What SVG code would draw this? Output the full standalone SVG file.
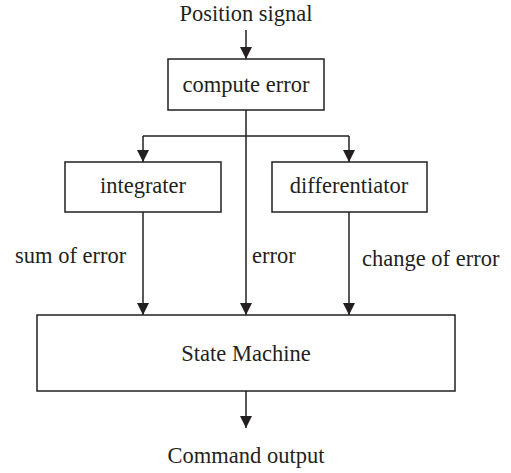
<svg xmlns="http://www.w3.org/2000/svg" width="511" height="473" viewBox="0 0 511 473">
  <style>
    .box { fill: #ffffff; stroke: #231f20; stroke-width: 1.5; }
    .wire { fill: none; stroke: #231f20; stroke-width: 1.5; }
    text { font-family: "Liberation Serif", "Times New Roman", serif; font-size: 22.5px; fill: #231f20; }
    .c { text-anchor: middle; }
  </style>
  <defs>
    <marker id="arrow" viewBox="0 0 12 12" refX="12" refY="6" markerWidth="12" markerHeight="12" markerUnits="userSpaceOnUse" orient="auto">
      <path d="M0,0 L12,6 L0,12 Z" fill="#231f20"/>
    </marker>
  </defs>

  <rect width="511" height="473" fill="#ffffff"/>

  <!-- connectors -->
  <g id="connectors">
    <line class="wire" x1="246" y1="30" x2="246" y2="59" marker-end="url(#arrow)"/>
    <line class="wire" x1="246" y1="110" x2="246" y2="315" marker-end="url(#arrow)"/>
    <path class="wire" d="M143,136 H349"/>
    <line class="wire" x1="143" y1="136" x2="143" y2="162" marker-end="url(#arrow)"/>
    <line class="wire" x1="349" y1="136" x2="349" y2="162" marker-end="url(#arrow)"/>
    <line class="wire" x1="143" y1="212" x2="143" y2="315" marker-end="url(#arrow)"/>
    <line class="wire" x1="349" y1="212" x2="349" y2="315" marker-end="url(#arrow)"/>
    <line class="wire" x1="246" y1="391" x2="246" y2="428" marker-end="url(#arrow)"/>
    <text x="15" y="263">sum of error</text>
    <text x="252" y="263">error</text>
    <text x="362" y="266">change of error</text>
  </g>

  <g id="input">
    <text class="c" x="246" y="21">Position signal</text>
  </g>

  <g id="compute-error">
    <rect class="box" x="168" y="59" width="156" height="51"/>
    <text class="c" x="246" y="92">compute error</text>
  </g>

  <g id="integrater">
    <rect class="box" x="65" y="162" width="156" height="50"/>
    <text class="c" x="143" y="193">integrater</text>
  </g>

  <g id="differentiator">
    <rect class="box" x="272" y="162" width="155" height="50"/>
    <text class="c" x="349" y="193">differentiator</text>
  </g>

  <g id="state-machine">
    <rect class="box" x="37" y="315" width="418" height="76"/>
    <text class="c" x="246" y="361">State Machine</text>
  </g>

  <g id="output">
    <text class="c" x="246" y="463">Command output</text>
  </g>
</svg>
